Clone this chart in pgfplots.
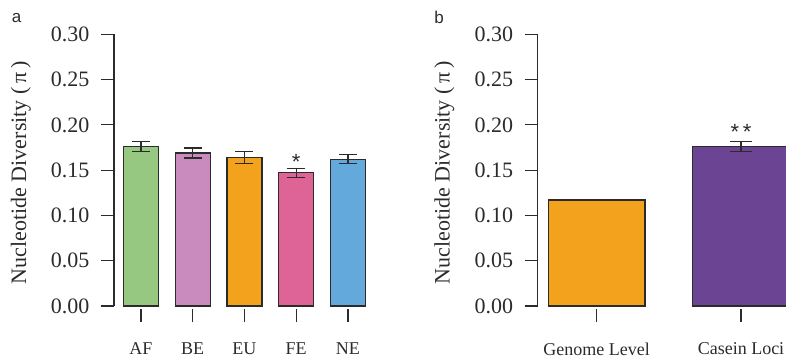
\documentclass[border=0pt]{standalone}
\usepackage{pgfplots}
\pgfplotsset{compat=1.18}
\usepackage{fontspec}
\setmainfont{Liberation Serif}
\newfontfamily\sansfont{Liberation Sans}

\definecolor{axgray}{HTML}{2B2B2B}
\definecolor{cAF}{HTML}{96C882}
\definecolor{cBE}{HTML}{C98BBE}
\definecolor{cEU}{HTML}{F2A21C}
\definecolor{cFE}{HTML}{DE6497}
\definecolor{cNE}{HTML}{64A9DB}
\definecolor{cCas}{HTML}{6B4493}

\pgfplotsset{
  divaxis/.style={
    scale only axis, anchor=south west,
    height=271.7pt,
    ymin=0, ymax=0.30,
    ytick={0,0.05,0.10,0.15,0.20,0.25,0.30},
    axis y line*=left, axis x line*=bottom,
    x axis line style={draw=none},
    y axis line style={-, line width=1.2pt, color=axgray},
    tick align=outside, major tick length=13pt,
    every tick/.style={line width=1.2pt, color=axgray},
    xtick style={yshift=-3pt},
    /pgf/number format/assume math mode=true,
    /pgf/number format/fixed,
    /pgf/number format/fixed zerofill,
    /pgf/number format/precision=2,
    yticklabel style={font=\fontsize{22}{25}\selectfont, text=axgray, xshift=-8pt},
    xticklabel style={font=\fontsize{18}{21}\selectfont, text=axgray, yshift=-20pt},
    ylabel={Nucleotide Diversity (\,π\,)},
    ylabel style={font=\fontsize{22}{26}\selectfont, text=axgray,
      at={(axis description cs:-0.358,0.49)}, anchor=center},
    ybar, bar shift=0pt,
    every axis plot/.append style={draw=axgray, line width=1.2pt},
    error bars/y dir=both, error bars/y explicit,
    error bars/error bar style={line width=1.2pt, color=axgray},
  },
}

\begin{document}
\begin{tikzpicture}
\useasboundingbox (0pt,0pt) rectangle (786pt,360pt);
\clip (0pt,0pt) rectangle (786pt,360pt);

% panel a: nucleotide diversity by population
\begin{axis}[divaxis, at={(114pt,54pt)}, width=259.8pt,
    xmin=-0.52, xmax=4.5, bar width=35pt,
    xtick={0,1,2,3,4}, xticklabels={AF,BE,EU,FE,NE},
    error bars/error mark options={rotate=90, mark size=9pt, line width=1.2pt, color=axgray}]
  \addplot[fill=cAF] coordinates {(0,0.176) +- (0,0.0055)};
  \addplot[fill=cBE] coordinates {(1,0.169) +- (0,0.0055)};
  \addplot[fill=cEU] coordinates {(2,0.164) +- (0,0.0065)};
  \addplot[fill=cFE] coordinates {(3,0.147) +- (0,0.0050)};
  \addplot[fill=cNE] coordinates {(4,0.162) +- (0,0.0050)};
  \node[font=\sansfont\fontsize{22}{24}\selectfont, text=axgray] at (axis cs:3,0.159) {*};
\end{axis}

% panel b: genome-wide level against the casein loci
\begin{axis}[divaxis, at={(537.7pt,54pt)}, width=261pt,
    xmin=-0.409, xmax=1.4, bar width=96.7pt,
    xtick={0,1}, xticklabels={Genome Level,Casein Loci},
    error bars/error mark options={rotate=90, mark size=11pt, line width=1.2pt, color=axgray}]
  \addplot[fill=cEU] coordinates {(0,0.117) +- (0,0)};
  \addplot[fill=cCas] coordinates {(1,0.176) +- (0,0.0052)};
  \node[font=\sansfont\fontsize{22}{24}\selectfont, text=axgray] at (axis cs:1,0.192) {*\,*};
\end{axis}

\node[font=\sansfont\fontsize{17}{20}\selectfont, text=axgray] at (16.7pt,342pt) {a};
\node[font=\sansfont\fontsize{17}{20}\selectfont, text=axgray] at (439pt,343pt) {b};
\end{tikzpicture}
\end{document}
